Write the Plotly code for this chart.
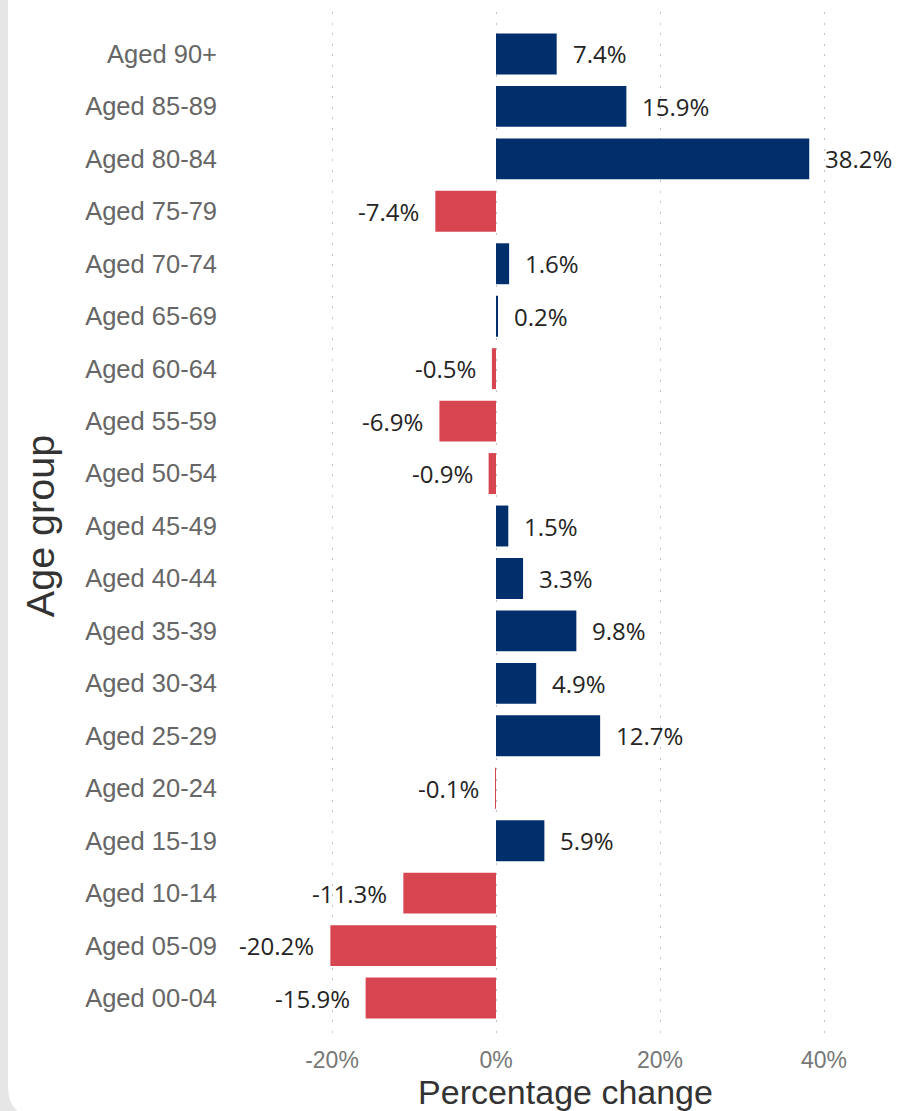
import plotly.graph_objects as go

categories = ["Aged 00-04", "Aged 05-09", "Aged 10-14", "Aged 15-19", "Aged 20-24",
              "Aged 25-29", "Aged 30-34", "Aged 35-39", "Aged 40-44", "Aged 45-49",
              "Aged 50-54", "Aged 55-59", "Aged 60-64", "Aged 65-69", "Aged 70-74",
              "Aged 75-79", "Aged 80-84", "Aged 85-89", "Aged 90+"]
values = [-15.9, -20.2, -11.3, 5.9, -0.1,
          12.7, 4.9, 9.8, 3.3, 1.5,
          -0.9, -6.9, -0.5, 0.2, 1.6,
          -7.4, 38.2, 15.9, 7.4]
tick_vals = [-20, 0, 20, 40]
tick_text = ["-20%", "0%", "20%", "40%"]

NAVY = "#002F6C"
RED = "#D64550"

W, H = 905, 1111
ML, MR, MT, MB = 226, 0, 12, 71
PW, PH = W - ML - MR, H - MT - MB
ZERO_PX, PX_PER_PCT = 496, 8.2

colors = [NAVY if v >= 0 else RED for v in values]

fig = go.Figure()
fig.add_trace(go.Bar(
    x=values, y=categories, orientation="h",
    marker=dict(color=colors, line=dict(width=0)),
    hoverinfo="x+y",
))

annotations = []
for c, v in zip(categories, values):
    annotations.append(dict(
        x=v, y=c, xref="x", yref="y",
        text=f"{v:.1f}%", showarrow=False,
        xanchor="left" if v >= 0 else "right",
        xshift=14 if v >= 0 else -14,
        font=dict(family="Open Sans, Noto Sans, sans-serif", size=24, color="#252423"),
    ))

# card background: white with rounded bottom-left corner over grey page
def px_x(p):
    return (p - ML) / PW

def px_y(p):
    return (H - MB - p) / PH

x0, x1, yt, yb, r = 8, W + 5, -5, 1118, 32
path = (f"M {px_x(x0)},{px_y(yt)} L {px_x(x1)},{px_y(yt)} L {px_x(x1)},{px_y(yb)} "
        f"L {px_x(x0 + r)},{px_y(yb)} Q {px_x(x0)},{px_y(yb)} {px_x(x0)},{px_y(yb - r)} Z")

fig.update_layout(
    width=W, height=H,
    margin=dict(l=ML, r=MR, t=MT, b=MB),
    paper_bgcolor="#E6E6E6",
    plot_bgcolor="rgba(0,0,0,0)",
    showlegend=False,
    bargap=0.22,
    annotations=annotations,
    shapes=[dict(type="path", path=path, xref="paper", yref="paper",
                 fillcolor="white", line=dict(width=0), layer="below")],
    xaxis=dict(
        range=[(ML - ZERO_PX) / PX_PER_PCT, (ML + PW - ZERO_PX) / PX_PER_PCT],
        tickvals=tick_vals, ticktext=tick_text,
        showgrid=True, gridcolor="#C4C4C4", griddash="2px,8.5px", gridwidth=1,
        zeroline=False, showline=False, ticks="",
        tickfont=dict(family="Liberation Sans, Arial, sans-serif", size=23, color="#777777"),
        ticklabelstandoff=4,
        title=dict(text="Percentage change", standoff=1,
                   font=dict(family="Liberation Sans, Arial, sans-serif", size=34, color="#333333")),
        automargin=False, fixedrange=True,
    ),
    yaxis=dict(
        range=[-0.8, 18.8],
        showgrid=False, zeroline=False, showline=False, ticks="",
        tickfont=dict(family="Liberation Sans, Arial, sans-serif", size=25.5, color="#666666"),
        ticklabelstandoff=8,
        title=dict(text="Age group", standoff=18,
                   font=dict(family="Liberation Sans, Arial, sans-serif", size=39.5, color="#333333")),
        automargin=False, fixedrange=True,
    ),
)

fig.write_html("out.html", config={"displayModeBar": False},
               post_script="document.body.style.margin='0';document.body.style.overflow='hidden';")
